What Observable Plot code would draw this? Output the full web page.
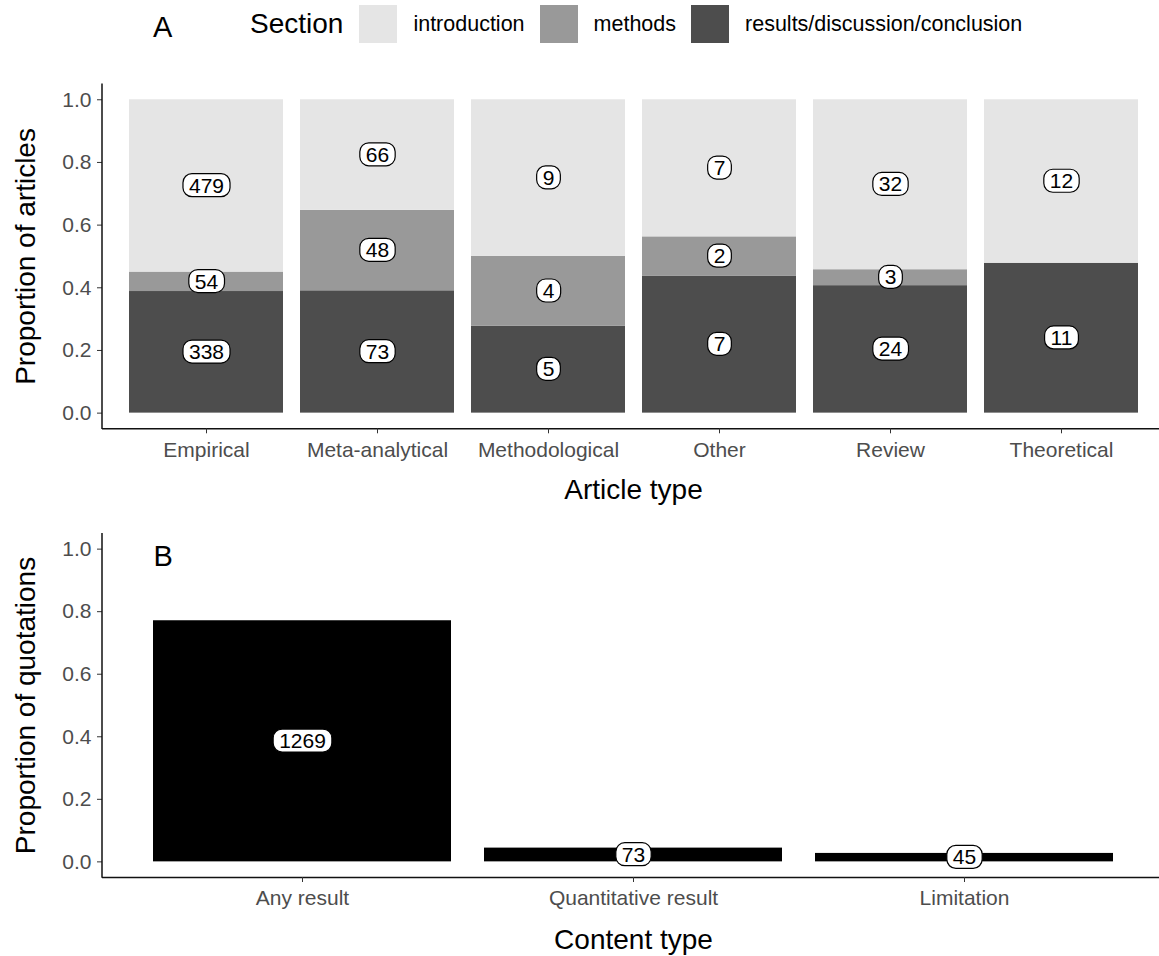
<!DOCTYPE html>
<html>
<head>
<meta charset="utf-8">
<script src="https://cdn.jsdelivr.net/npm/d3@7"></script>
<script src="https://cdn.jsdelivr.net/npm/@observablehq/plot@0.6"></script>
<style>
html, body { margin: 0; padding: 0; background: #fff; overflow: hidden; }
body { width: 1159px; height: 956px; font-family: "Liberation Sans", Arial, Helvetica, sans-serif; color: #000; }
#legend { height: 60px; box-sizing: border-box; padding-bottom: 12px; padding-left: 153px; display: flex; align-items: center; }
#legend .tag { font-size: 29px; width: 97px; position: relative; top: 3px; }
#legend .title { font-size: 28px; margin-right: 16px; }
#legend .sw { display: inline-block; width: 38px; height: 38px; margin-right: 16px; }
#legend .lab { font-size: 21.5px; margin-right: 15px; }
svg { display: block; }
</style>
</head>
<body>
<div id="legend"></div>
<div id="chartA"></div>
<div id="chartB"></div>
<script>
// ---- data ----
const articleTypes = ["Empirical", "Meta-analytical", "Methodological", "Other", "Review", "Theoretical"];
const sections = ["introduction", "methods", "results/discussion/conclusion"];
const sectionColors = ["#e5e5e5", "#999999", "#4d4d4d"];
const introductionCounts = [479, 66, 9, 7, 32, 12];
const methodsCounts = [54, 48, 4, 2, 3, 0];
const resultsCounts = [338, 73, 5, 7, 24, 11];
const yTicks = [0, 0.2, 0.4, 0.6, 0.8, 1.0];
const contentTypes = ["Any result", "Quantitative result", "Limitation"];
const quotationProportions = [0.771, 0.044, 0.027];
const quotationCounts = [1269, 73, 45];

// ---- tables ----
const tableA = [];
articleTypes.forEach((t, i) => {
  tableA.push({type: t, section: sections[2], count: resultsCounts[i]});
  tableA.push({type: t, section: sections[1], count: methodsCounts[i]});
  tableA.push({type: t, section: sections[0], count: introductionCounts[i]});
});
const tableB = contentTypes.map((c, i) => ({type: c, proportion: quotationProportions[i], count: quotationCounts[i]}));

const font = '"Liberation Sans", Arial, Helvetica, sans-serif';
const W = 1159, ML = 102, XR = 1164;

// ---- legend ----
const legend = d3.select("#legend");
legend.append("span").attr("class", "tag").text("A");
legend.append("span").attr("class", "title").text("Section");
sections.forEach((s, i) => {
  legend.append("span").attr("class", "sw").style("background", sectionColors[i]);
  legend.append("span").attr("class", "lab").text(s);
});

function axes(xTitle, yTitle, titleDy) {
  return [
    Plot.ruleY([-0.05], {stroke: "#111", strokeWidth: 1.5}),
    Plot.axisY({ticks: yTicks, tickFormat: d3.format(".1f"), tickSize: 5, tickPadding: 6, fontSize: 21, stroke: "#333", fill: "#4d4d4d", label: null}),
    Plot.axisX({tickSize: 5, tickPadding: 8, fontSize: 21, stroke: "#333", fill: "#4d4d4d", label: null}),
    Plot.text([yTitle], {text: d => d, frameAnchor: "left", rotate: -90, dx: -68, lineAnchor: "bottom", textAnchor: "middle", fontSize: 28, fill: "black"}),
    Plot.text([xTitle], {text: d => d, frameAnchor: "bottom", dx: 2.5, dy: titleDy, lineAnchor: "bottom", textAnchor: "middle", fontSize: 28, fill: "black"})
  ];
}

const chartA = Plot.plot({
  width: W, height: 450,
  marginLeft: ML, marginRight: 0, marginTop: 23.6, marginBottom: 81.7,
  style: {fontFamily: font, fontSize: "21px", background: "white", color: "black"},
  x: {domain: articleTypes, range: [ML, XR], paddingInner: 0.1, paddingOuter: 0.15, label: null},
  y: {domain: [-0.05, 1.05], label: null},
  color: {domain: sections, range: sectionColors},
  marks: [
    Plot.barY(tableA, Plot.stackY({offset: "normalize"}, {x: "type", y: "count", z: "section", fill: "section"})),
    Plot.text(tableA, Plot.stackY({offset: "normalize"}, {x: "type", y: "count", z: "section", text: d => String(d.count), filter: d => d.count > 0, fill: "black", fontSize: 21})),
    ...axes("Article type", "Proportion of articles", 70)
  ]
});

const chartB = Plot.plot({
  width: W, height: 446,
  marginLeft: ML, marginRight: 0, marginTop: 23, marginBottom: 79,
  style: {fontFamily: font, fontSize: "21px", background: "white", color: "black"},
  x: {domain: contentTypes, range: [ML, XR], paddingInner: 0.1, paddingOuter: 0.15, label: null},
  y: {domain: [-0.05, 1.05], label: null},
  marks: [
    Plot.barY(tableB, {x: "type", y: "proportion", fill: "black"}),
    Plot.text(tableB, Plot.stackY({x: "type", y: "proportion", text: d => String(d.count), fill: "black", fontSize: 21})),
    Plot.text(["B"], {text: d => d, frameAnchor: "top-left", dx: 51, dy: 12, textAnchor: "start", lineAnchor: "top", fontSize: 29, fill: "black"}),
    ...axes("Content type", "Proportion of quotations", 71)
  ]
});

document.getElementById("chartA").append(chartA);
document.getElementById("chartB").append(chartB);

const NS = "http://www.w3.org/2000/svg";
function finish(chart) {
  // rounded label boxes behind count labels
  d3.select(chart).selectAll('g[aria-label="text"] text').each(function () {
    if (!/^\d+$/.test(this.textContent)) return;
    const b = this.getBBox();
    const r = document.createElementNS(NS, "rect");
    r.setAttribute("x", b.x - 6);
    r.setAttribute("y", b.y);
    r.setAttribute("width", b.width + 12);
    r.setAttribute("height", b.height);
    r.setAttribute("rx", 9);
    r.setAttribute("fill", "white");
    r.setAttribute("stroke", "black");
    r.setAttribute("stroke-width", 1.2);
    const tr = this.getAttribute("transform");
    if (tr) r.setAttribute("transform", tr);
    this.parentNode.insertBefore(r, this);
  });
  // left axis line
  const y = chart.scale("y");
  d3.select(chart).append("line")
    .attr("x1", ML).attr("x2", ML)
    .attr("y1", y.apply(1.05)).attr("y2", y.apply(-0.05) + 0.75)
    .attr("stroke", "#111").attr("stroke-width", 1.5);
}
finish(chartA);
finish(chartB);
</script>
</body>
</html>
